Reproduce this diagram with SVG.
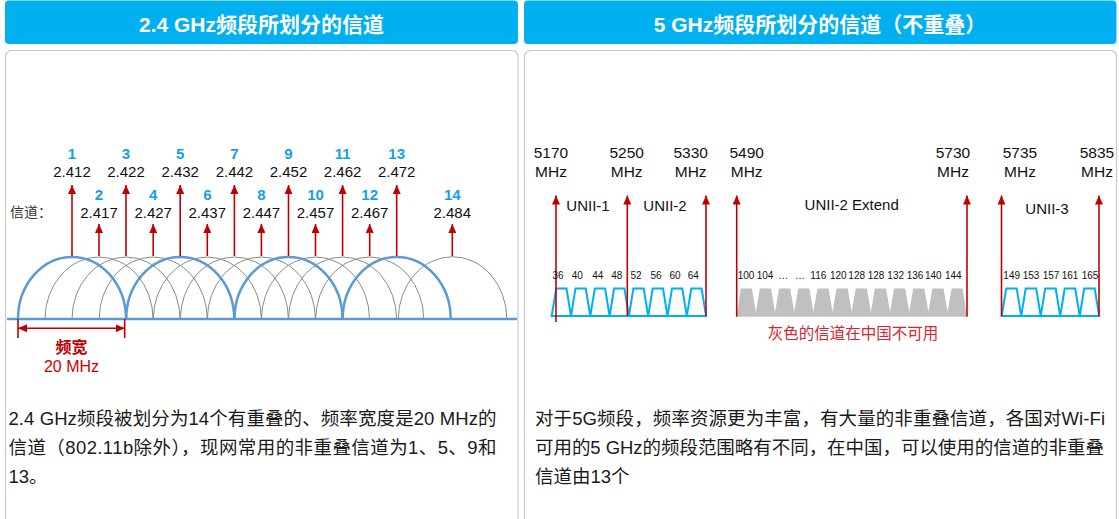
<svg xmlns="http://www.w3.org/2000/svg" width="1119" height="519" viewBox="0 0 1119 519">
<style>
text{font-family:"Liberation Sans","Noto Sans CJK SC",sans-serif}
.hdr{fill:#00B0F0}
.htxt{fill:#fff;font-size:21px;font-weight:bold;text-anchor:middle}
.panel{fill:#fff;stroke:#C8C8C8;stroke-width:1.2}
.chn{fill:#14A0E6;font-size:15px;font-weight:bold;text-anchor:middle}
.frq{fill:#111;font-size:15px;text-anchor:middle}
.arcg{fill:none;stroke:#8A8A8A;stroke-width:1}
.arcb{fill:none;stroke:#5B9BD5;stroke-width:2.5}
.red{stroke:#C00000;stroke-width:1.6;fill:none}
.f5{fill:#111;font-size:15.5px;text-anchor:middle}
.unii{fill:#111;font-size:15px;text-anchor:middle}
.sm{fill:#111;font-size:10px;text-anchor:middle}
.para{fill:#1a1a1a;font-size:18.5px}
.trap{fill:none;stroke:#00B0F0;stroke-width:2;stroke-linejoin:miter}
</style>
<defs>
<marker id="ah" viewBox="0 0 10 10" refX="10" refY="5" markerWidth="9" markerHeight="8" orient="auto-start-reverse" markerUnits="userSpaceOnUse" preserveAspectRatio="none">
<path d="M0,0 L10,5 L0,10 z" fill="#C00000"/>
</marker>
</defs>

<g id="left-header">
<rect class="hdr" x="5" y="0.5" width="513" height="43.5" rx="4"/>
<text class="htxt" x="261.5" y="32">2.4 GHz频段所划分的信道</text>
</g>
<g id="right-header">
<rect class="hdr" x="524" y="0.5" width="592.5" height="43.5" rx="4"/>
<text class="htxt" x="820" y="32">5 GHz频段所划分的信道（不重叠）</text>
</g>
<g id="left-panel"><rect class="panel" x="5.5" y="50.5" width="512.5" height="490" rx="6"/></g>
<g id="right-panel"><rect class="panel" x="524.5" y="50.5" width="592" height="490" rx="6"/></g>

<g id="left-arcs">
<path class="arcg" d="M45,319 A54 62 0 0 1 153,319"/>
<path class="arcg" d="M72,319 A54 62 0 0 1 180,319"/>
<path class="arcg" d="M99.2,319 A54 62 0 0 1 207.2,319"/>
<path class="arcg" d="M153.3,319 A54 62 0 0 1 261.3,319"/>
<path class="arcg" d="M180.4,319 A54 62 0 0 1 288.4,319"/>
<path class="arcg" d="M207.4,319 A54 62 0 0 1 315.4,319"/>
<path class="arcg" d="M261.5,319 A54 62 0 0 1 369.5,319"/>
<path class="arcg" d="M288.6,319 A54 62 0 0 1 396.6,319"/>
<path class="arcg" d="M315.7,319 A54 62 0 0 1 423.7,319"/>
<path class="arcg" d="M398.3,319 A54 62 0 0 1 506.8,319"/>
<path class="arcb" d="M18,319 A54 62 0 0 1 126,319"/>
<path class="arcb" d="M126.2,319 A54 62 0 0 1 234.2,319"/>
<path class="arcb" d="M234.5,319 A54 62 0 0 1 342.5,319"/>
<path class="arcb" d="M342.7,319 A54 62 0 0 1 450.7,319"/>
<line x1="7" y1="319" x2="517" y2="319" stroke="#5B9BD5" stroke-width="2.5"/>
</g>

<g id="left-connectors">
<line class="red" x1="72" y1="256" x2="72" y2="185" marker-end="url(#ah)"/>
<line class="red" x1="99" y1="256" x2="99" y2="224" marker-end="url(#ah)"/>
<line class="red" x1="126" y1="256" x2="126" y2="185" marker-end="url(#ah)"/>
<line class="red" x1="153.2" y1="256" x2="153.2" y2="224" marker-end="url(#ah)"/>
<line class="red" x1="180.2" y1="256" x2="180.2" y2="185" marker-end="url(#ah)"/>
<line class="red" x1="207.3" y1="256" x2="207.3" y2="224" marker-end="url(#ah)"/>
<line class="red" x1="234.4" y1="256" x2="234.4" y2="185" marker-end="url(#ah)"/>
<line class="red" x1="261.4" y1="256" x2="261.4" y2="224" marker-end="url(#ah)"/>
<line class="red" x1="288.5" y1="256" x2="288.5" y2="185" marker-end="url(#ah)"/>
<line class="red" x1="315.5" y1="256" x2="315.5" y2="224" marker-end="url(#ah)"/>
<line class="red" x1="342.6" y1="256" x2="342.6" y2="185" marker-end="url(#ah)"/>
<line class="red" x1="369.7" y1="256" x2="369.7" y2="224" marker-end="url(#ah)"/>
<line class="red" x1="396.7" y1="256" x2="396.7" y2="185" marker-end="url(#ah)"/>
<line class="red" x1="452.3" y1="256" x2="452.3" y2="224" marker-end="url(#ah)"/>
<line class="red" x1="18" y1="319" x2="18" y2="338"/>
<line class="red" x1="124.7" y1="319" x2="124.7" y2="338"/>
<line class="red" x1="18" y1="328.3" x2="124.7" y2="328.3" marker-start="url(#ah)" marker-end="url(#ah)"/>
</g>

<g id="left-labels">
<text x="10" y="217" fill="#333" font-size="14">信道：</text>
<text class="chn" x="72" y="158.5">1</text><text class="frq" x="72" y="177">2.412</text>
<text class="chn" x="126" y="158.5">3</text><text class="frq" x="126" y="177">2.422</text>
<text class="chn" x="180.2" y="158.5">5</text><text class="frq" x="180.2" y="177">2.432</text>
<text class="chn" x="234.4" y="158.5">7</text><text class="frq" x="234.4" y="177">2.442</text>
<text class="chn" x="288.5" y="158.5">9</text><text class="frq" x="288.5" y="177">2.452</text>
<text class="chn" x="342.6" y="158.5">11</text><text class="frq" x="342.6" y="177">2.462</text>
<text class="chn" x="396.7" y="158.5">13</text><text class="frq" x="396.7" y="177">2.472</text>
<text class="chn" x="99" y="199.5">2</text><text class="frq" x="99" y="217.5">2.417</text>
<text class="chn" x="153.2" y="199.5">4</text><text class="frq" x="153.2" y="217.5">2.427</text>
<text class="chn" x="207.3" y="199.5">6</text><text class="frq" x="207.3" y="217.5">2.437</text>
<text class="chn" x="261.4" y="199.5">8</text><text class="frq" x="261.4" y="217.5">2.447</text>
<text class="chn" x="315.5" y="199.5">10</text><text class="frq" x="315.5" y="217.5">2.457</text>
<text class="chn" x="369.7" y="199.5">12</text><text class="frq" x="369.7" y="217.5">2.467</text>
<text class="chn" x="452.3" y="199.5">14</text><text class="frq" x="452.3" y="217.5">2.484</text>
<text x="71.5" y="353" fill="#C00000" font-size="16" font-weight="bold" text-anchor="middle">频宽</text>
<text x="71.5" y="371.5" fill="#CC0000" font-size="16" text-anchor="middle">20 MHz</text>
</g>

<g id="left-text" class="para">
<text class="para" x="8.5" y="425" textLength="488" lengthAdjust="spacing">2.4 GHz频段被划分为14个有重叠的、频率宽度是20 MHz的</text>
<text class="para" x="8.5" y="453.5" textLength="488" lengthAdjust="spacing">信道（802.11b除外），现网常用的非重叠信道为1、5、9和</text>
<text class="para" x="8.5" y="483">13。</text>
</g>

<g id="right-channels">
<polygon class="trap" points="551.7,316 556.2,288.5 566.5,288.5 571,316 575.5,288.5 585.8,288.5 590.3,316 594.8,288.5 605.1,288.5 609.6,316 614.1,288.5 624.4,288.5 628.9,316 633.4,288.5 643.7,288.5 648.2,316 652.7,288.5 663,288.5 667.5,316 672,288.5 682.3,288.5 686.8,316 691.3,288.5 701.6,288.5 706.1,316"/>
<polygon fill="#C0C0C0" points="736.7,316.7 740.7,288.5 751.87,288.5 755.87,312 759.87,288.5 771.04,288.5 775.04,312 779.04,288.5 790.21,288.5 794.21,312 798.21,288.5 809.38,288.5 813.38,312 817.38,288.5 828.55,288.5 832.55,312 836.55,288.5 847.72,288.5 851.72,312 855.72,288.5 866.89,288.5 870.89,312 874.89,288.5 886.06,288.5 890.06,312 894.06,288.5 905.23,288.5 909.23,312 913.23,288.5 924.4,288.5 928.4,312 932.4,288.5 943.57,288.5 947.57,312 951.57,288.5 962.74,288.5 966.74,316.7"/>
<polygon class="trap" points="1001.7,316 1006.2,288.5 1016.7,288.5 1021.2,316 1025.7,288.5 1036.2,288.5 1040.7,316 1045.2,288.5 1055.7,288.5 1060.2,316 1064.7,288.5 1075.2,288.5 1079.7,316 1084.2,288.5 1094.7,288.5 1099.2,316"/>
</g>

<g id="right-connectors">
<line class="red" x1="556" y1="322" x2="556" y2="195.5" marker-end="url(#ah)"/>
<line class="red" x1="627.3" y1="316" x2="627.3" y2="195.5" marker-end="url(#ah)"/>
<line class="red" x1="706" y1="316" x2="706" y2="195.5" marker-end="url(#ah)"/>
<line class="red" x1="736.7" y1="316.7" x2="736.7" y2="195.5" marker-end="url(#ah)"/>
<line class="red" x1="967" y1="316.7" x2="967" y2="195.5" marker-end="url(#ah)"/>
<line class="red" x1="1001.5" y1="316" x2="1001.5" y2="195.5" marker-end="url(#ah)"/>
<line class="red" x1="1099" y1="316" x2="1099" y2="195.5" marker-end="url(#ah)"/>
</g>

<g id="right-labels">
<text class="f5" x="551" y="158.2">5170</text><text class="f5" x="551" y="177.2">MHz</text>
<text class="f5" x="626.7" y="158.2">5250</text><text class="f5" x="626.7" y="177.2">MHz</text>
<text class="f5" x="690.7" y="158.2">5330</text><text class="f5" x="690.7" y="177.2">MHz</text>
<text class="f5" x="746.7" y="158.2">5490</text><text class="f5" x="746.7" y="177.2">MHz</text>
<text class="f5" x="953" y="158.2">5730</text><text class="f5" x="953" y="177.2">MHz</text>
<text class="f5" x="1020" y="158.2">5735</text><text class="f5" x="1020" y="177.2">MHz</text>
<text class="f5" x="1097" y="158.2">5835</text><text class="f5" x="1097" y="177.2">MHz</text>
<text class="unii" x="588" y="211.4">UNII-1</text>
<text class="unii" x="665" y="211.4">UNII-2</text>
<text class="unii" x="851.7" y="210.4">UNII-2 Extend</text>
<text class="unii" x="1047" y="213.7">UNII-3</text>
<text class="sm" x="558" y="279.3">36</text>
<text class="sm" x="577.3" y="279.3">40</text>
<text class="sm" x="597.7" y="279.3">44</text>
<text class="sm" x="616.7" y="279.3">48</text>
<text class="sm" x="636" y="279.3">52</text>
<text class="sm" x="656" y="279.3">56</text>
<text class="sm" x="675" y="279.3">60</text>
<text class="sm" x="693.3" y="279.3">64</text>
<text class="sm" x="746" y="279.3">100</text>
<text class="sm" x="765" y="279.3">104</text>
<text class="sm" x="783.3" y="279.3">…</text>
<text class="sm" x="800" y="279.3">…</text>
<text class="sm" x="818.3" y="279.3">116</text>
<text class="sm" x="838.3" y="279.3">120</text>
<text class="sm" x="856.7" y="279.3">128</text>
<text class="sm" x="876" y="279.3">128</text>
<text class="sm" x="895.7" y="279.3">132</text>
<text class="sm" x="915" y="279.3">136</text>
<text class="sm" x="933.3" y="279.3">140</text>
<text class="sm" x="953.3" y="279.3">144</text>
<text class="sm" x="1011.7" y="279.3">149</text>
<text class="sm" x="1031" y="279.3">153</text>
<text class="sm" x="1051" y="279.3">157</text>
<text class="sm" x="1070" y="279.3">161</text>
<text class="sm" x="1090" y="279.3">165</text>
<text x="853" y="339" fill="#D9232E" font-size="15.5" text-anchor="middle">灰色的信道在中国不可用</text>
</g>

<g id="right-text">
<text class="para" x="535" y="425" textLength="570" lengthAdjust="spacing">对于5G频段，频率资源更为丰富，有大量的非重叠信道，各国对Wi-Fi</text>
<text class="para" x="535" y="453.5" textLength="569" lengthAdjust="spacing">可用的5 GHz的频段范围略有不同，在中国，可以使用的信道的非重叠</text>
<text class="para" x="535" y="483">信道由13个</text>
</g>
</svg>
